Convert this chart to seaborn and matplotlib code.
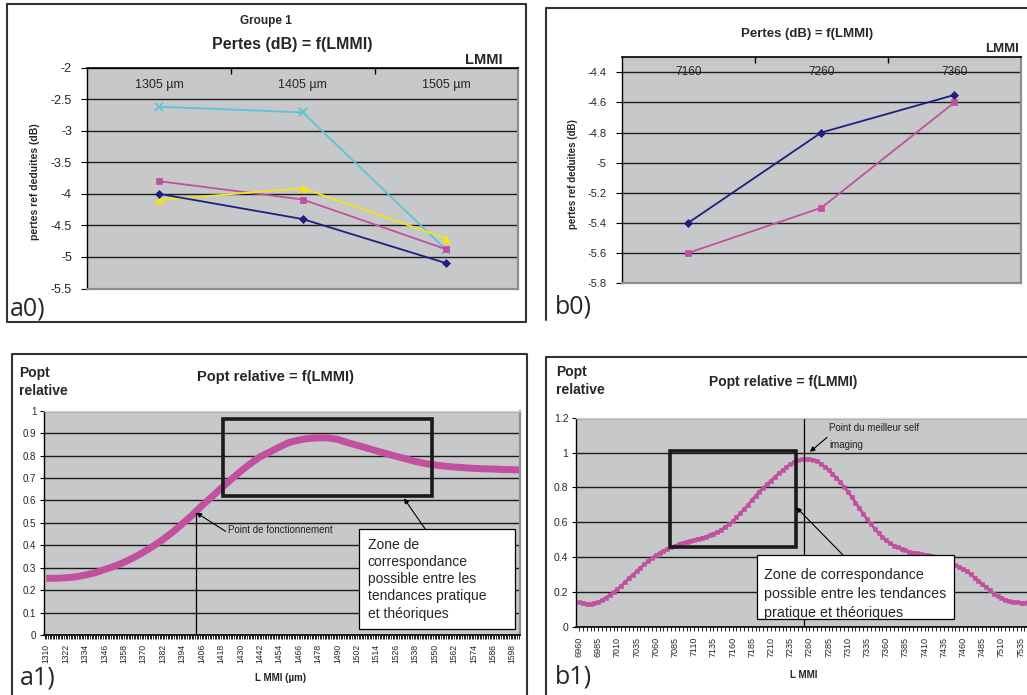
import matplotlib
matplotlib.use("Agg")
import matplotlib.pyplot as plt
from matplotlib.patches import Rectangle
from matplotlib.lines import Line2D
from matplotlib.ticker import MultipleLocator, FixedLocator
import pandas as pd
import seaborn as sns

# ---------------- data ----------------
a0_categories = ["1305 µm", "1405 µm", "1505 µm"]
a0_navy = [-4.00, -4.40, -5.10]
a0_magenta = [-3.80, -4.09, -4.88]
a0_yellow = [-4.10, -3.91, -4.71]
a0_cyan = [-2.62, -2.71, -4.89]
a0_yticks = [-2, -2.5, -3, -3.5, -4, -4.5, -5, -5.5]

b0_categories = ["7160", "7260", "7360"]
b0_navy = [-5.40, -4.80, -4.55]
b0_magenta = [-5.60, -5.30, -4.60]
b0_yticks = [-4.4, -4.6, -4.8, -5, -5.2, -5.4, -5.6, -5.8]

a1_lmmi = list(range(1310, 1605, 6))
a1_popt = [0.253, 0.253, 0.255, 0.259, 0.267, 0.277, 0.292, 0.306, 0.324, 0.345,
           0.369, 0.396, 0.425, 0.458, 0.495, 0.533, 0.575, 0.614, 0.654, 0.692,
           0.729, 0.763, 0.794, 0.815, 0.838, 0.858, 0.869, 0.876, 0.879, 0.879,
           0.872, 0.858, 0.846, 0.834, 0.821, 0.809, 0.797, 0.786, 0.774, 0.765,
           0.758, 0.753, 0.749, 0.746, 0.743, 0.741, 0.740, 0.738, 0.737, 0.735]
a1_tick_labels = list(range(1310, 1599, 12))
a1_yticks = [0, 0.1, 0.2, 0.3, 0.4, 0.5, 0.6, 0.7, 0.8, 0.9, 1]

b1_lmmi = list(range(6960, 7550, 5))
b1_popt = [0.140, 0.135, 0.132, 0.132, 0.135, 0.140, 0.152, 0.167, 0.182, 0.198,
           0.215, 0.235, 0.257, 0.278, 0.298, 0.318, 0.338, 0.358, 0.376, 0.394,
           0.410, 0.424, 0.436, 0.447, 0.456, 0.465, 0.473, 0.481, 0.488, 0.494,
           0.499, 0.505, 0.511, 0.517, 0.525, 0.534, 0.544, 0.556, 0.570, 0.587,
           0.605, 0.627, 0.650, 0.675, 0.700, 0.726, 0.752, 0.776, 0.798, 0.818,
           0.838, 0.860, 0.880, 0.898, 0.916, 0.932, 0.945, 0.955, 0.960, 0.962,
           0.962, 0.958, 0.950, 0.935, 0.918, 0.900, 0.878, 0.855, 0.830, 0.803,
           0.775, 0.745, 0.713, 0.680, 0.648, 0.617, 0.590, 0.563, 0.538, 0.514,
           0.495, 0.479, 0.466, 0.455, 0.446, 0.438, 0.431, 0.426, 0.422, 0.418,
           0.414, 0.410, 0.404, 0.398, 0.390, 0.382, 0.374, 0.366, 0.356, 0.345,
           0.332, 0.317, 0.300, 0.282, 0.264, 0.246, 0.226, 0.208, 0.190, 0.176,
           0.165, 0.155, 0.148, 0.142, 0.139, 0.138, 0.138, 0.139]
b1_tick_labels = list(range(6960, 7536, 25))
b1_yticks = [0, 0.2, 0.4, 0.6, 0.8, 1, 1.2]

# ---------------- style ----------------
sns.set_style("white")
plt.rcParams['font.family'] = ['Liberation Sans', 'DejaVu Sans']
plt.rcParams['axes.unicode_minus'] = False

NAVY = "#1f1f7d"
MAGENTA = "#c1509f"
YELLOW = "#f2e41a"
CYAN = "#5cc3da"
PLOT_BG = "#c7c8ca"
GRID = "#1c1c1c"

W, H = 1027, 695
fig = plt.figure(figsize=(W / 100, H / 100), dpi=100)
fig.patch.set_facecolor("white")


def rect(l, t, r, b):
    return [l / W, 1 - b / H, (r - l) / W, (b - t) / H]


def fx(x):
    return x / W


def fy(y):
    return 1 - y / H


def ftext(x, y, s, **kw):
    fig.text(fx(x), fy(y), s, **kw)


def fline(xs, ys, **kw):
    fig.add_artist(Line2D([fx(v) for v in xs], [fy(v) for v in ys],
                          transform=fig.transFigure, **kw))


def base_style(ax):
    ax.set_facecolor(PLOT_BG)
    ax.yaxis.grid(True, color=GRID, linewidth=1.0)
    ax.xaxis.grid(False)
    ax.set_axisbelow(True)
    for s in ax.spines.values():
        s.set_visible(True)
        s.set_linewidth(1.0)
    ax.spines['left'].set_color('black')
    ax.spines['right'].set_color('#8e8e8e')
    ax.spines['right'].set_linewidth(1.6)
    ax.tick_params(axis='y', which='major', direction='out', length=4,
                   width=0.8, color='black', left=True)


# ---------------- panel borders ----------------
border_kw = dict(color="#333333", linewidth=1.5)
fline([7, 526, 526, 7, 7], [4, 4, 321.5, 321.5, 4], **border_kw)          # a0
fline([1027, 546, 546], [8.3, 8.3, 320], **border_kw)                    # b0
fline([12, 12, 527.4, 527.4], [700, 354, 354, 700], **border_kw)         # a1
fline([1027, 546, 546], [356.7, 356.7, 700], **border_kw)                # b1

# ---------------- a0 ----------------
ax = fig.add_axes(rect(87.2, 67.6, 518.3, 288.5))
base_style(ax)
a0_df = pd.DataFrame({"LMMI": a0_categories, "navy": a0_navy, "magenta": a0_magenta,
                      "yellow": a0_yellow, "cyan": a0_cyan})
series_a0 = [("cyan", CYAN, "x", 5.5), ("magenta", MAGENTA, "s", 5),
             ("yellow", YELLOW, "^", 6), ("navy", NAVY, "D", 4.5)]
for col, c, m, ms in series_a0:
    sns.lineplot(data=a0_df, x="LMMI", y=col, ax=ax, color=c, marker=m,
                 markersize=ms, linewidth=1.3, markeredgecolor=c,
                 markeredgewidth=1.3 if m == "x" else 0.5, sort=False)
ax.set_xlim(-0.5, 2.5)
ax.set_ylim(-5.5, -2)
ax.set_yticks(a0_yticks)
ax.set_yticklabels([f"{v:g}" for v in a0_yticks], fontsize=9)
ax.xaxis.tick_top()
ax.set_xticks(range(len(a0_categories)))
ax.set_xticklabels(a0_categories, fontsize=9)
ax.xaxis.set_minor_locator(FixedLocator([0.5, 1.5]))
ax.tick_params(axis='x', which='major', length=0, pad=-16.5, top=True, bottom=False)
ax.tick_params(axis='x', which='minor', length=4, direction='in', top=True,
               bottom=False, width=1, color='black')
ax.tick_params(axis='y', pad=7)
ax.spines['top'].set_color('black')
ax.spines['top'].set_linewidth(1.2)
ax.spines['bottom'].set_color('#8e8e8e')
ax.spines['bottom'].set_linewidth(1.6)
ax.set_xlabel("")
ax.set_ylabel("")
ftext(266.4, 21, "Groupe 1", fontsize=8.5, fontweight='bold', ha='center', va='center')
ftext(292, 44.5, "Pertes (dB) = f(LMMI)", fontsize=11.5, fontweight='bold',
      ha='center', va='center')
ftext(484, 60, "LMMI", fontsize=10.5, fontweight='bold', ha='center', va='center')
ftext(35.5, 182, "pertes ref deduites (dB)", fontsize=7.5, fontweight='bold',
      rotation=90, ha='center', va='center')
ftext(10, 309, "a0)", fontsize=18, family=['Open Sans', 'DejaVu Sans'],
      ha='left', va='center')

# ---------------- b0 ----------------
ax = fig.add_axes(rect(621.7, 57.3, 1021, 283))
base_style(ax)
b0_df = pd.DataFrame({"LMMI": b0_categories, "navy": b0_navy, "magenta": b0_magenta})
for col, c, m, ms in [("magenta", MAGENTA, "s", 5), ("navy", NAVY, "D", 4.5)]:
    sns.lineplot(data=b0_df, x="LMMI", y=col, ax=ax, color=c, marker=m,
                 markersize=ms, linewidth=1.3, markeredgecolor=c,
                 markeredgewidth=0.5, sort=False)
ax.set_xlim(-0.5, 2.5)
ax.set_ylim(-5.8, -4.3)
ax.set_yticks(b0_yticks)
ax.set_yticklabels([f"{v:g}" for v in b0_yticks], fontsize=8)
ax.xaxis.tick_top()
ax.set_xticks(range(len(b0_categories)))
ax.set_xticklabels(b0_categories, fontsize=8.5)
ax.xaxis.set_minor_locator(FixedLocator([0.5, 1.5]))
ax.tick_params(axis='x', which='major', length=0, pad=-15, top=True, bottom=False)
ax.tick_params(axis='x', which='minor', length=4, direction='in', top=True,
               bottom=False, width=1, color='black')
ax.tick_params(axis='y', pad=7)
ax.spines['top'].set_color('black')
ax.spines['top'].set_linewidth(1.2)
ax.spines['bottom'].set_color('#8e8e8e')
ax.spines['bottom'].set_linewidth(1.6)
ax.set_xlabel("")
ax.set_ylabel("")
ftext(806.7, 34.3, "Pertes (dB) = f(LMMI)", fontsize=9.5, fontweight='bold',
      ha='center', va='center')
ftext(1001.7, 49.3, "LMMI", fontsize=9.5, fontweight='bold', ha='center', va='center')
ftext(573.3, 174.3, "pertes ref deduites (dB)", fontsize=7, fontweight='bold',
      rotation=90, ha='center', va='center')
ftext(555, 307, "b0)", fontsize=18, family=['Open Sans', 'DejaVu Sans'],
      ha='left', va='center')

# ---------------- a1 ----------------
ax = fig.add_axes(rect(44, 410.7, 520, 635))
base_style(ax)
sns.lineplot(x=a1_lmmi, y=a1_popt, ax=ax, color=MAGENTA, linewidth=5,
             solid_capstyle='butt')
ax.set_xlim(1308.6, 1602.8)
ax.set_ylim(0, 1)
ax.set_yticks(a1_yticks)
ax.set_yticklabels([f"{v:g}" for v in a1_yticks], fontsize=7)
ax.set_xticks(a1_tick_labels)
ax.set_xticklabels([str(v) for v in a1_tick_labels], fontsize=6.2, rotation=90)
ax.xaxis.set_minor_locator(MultipleLocator(1))
ax.tick_params(axis='x', which='both', direction='out', length=3, width=0.6,
               color='black', bottom=True, pad=3.5)
ax.tick_params(axis='y', length=3, pad=2.5)
ax.spines['bottom'].set_color('black')
ax.spines['bottom'].set_linewidth(1.2)
ax.spines['top'].set_color('#d5d5d5')
ax.set_xlabel("")
ax.set_ylabel("")
# operating point
ax.plot([1402.3, 1402.3], [0, 0.543], color='black', linewidth=0.9)
ax.annotate("", xy=(1402.8, 0.545), xytext=(1420.9, 0.462),
            arrowprops=dict(arrowstyle='-|>', color='black', lw=0.8,
                            mutation_scale=7, shrinkA=0, shrinkB=0))
ax.text(1422.2, 0.468, "Point de fonctionnement", fontsize=7, ha='left',
        va='center', color='#222222')
# correspondence zone
ax.add_patch(Rectangle((1419, 0.621), 1548.2 - 1419, 0.963 - 0.621, fill=False,
                       edgecolor='#1a1a1a', linewidth=2.6, zorder=4))
box = Rectangle((1503.3, 0.0254), 1600 - 1503.3, 0.4726 - 0.0254, facecolor='white',
                edgecolor='black', linewidth=0.9, zorder=5)
ax.add_patch(box)
ax.text(1508.7, 0.2488, "Zone de\ncorrespondance\npossible entre les\n"
        "tendances pratique\net théoriques", fontsize=10, ha='left', va='center',
        linespacing=1.3, zorder=6)
ax.annotate("", xy=(1531.1, 0.609), xytext=(1544.2, 0.4726),
            arrowprops=dict(arrowstyle='-|>', color='black', lw=0.8,
                            mutation_scale=7, shrinkA=0, shrinkB=0), zorder=6)
ftext(275.5, 377, "Popt relative = f(LMMI)", fontsize=10.5, fontweight='bold',
      ha='center', va='center')
ftext(19.3, 382, "Popt\nrelative", fontsize=10, fontweight='bold', ha='left',
      va='center', linespacing=1.35)
ftext(280.6, 678.3, "L MMI (µm)", fontsize=7, fontweight='bold', ha='center',
      va='center')
ftext(20, 678, "a1)", fontsize=18, family=['Open Sans', 'DejaVu Sans'],
      ha='left', va='center')

# ---------------- b1 ----------------
ax = fig.add_axes(rect(576, 417.7, 1027, 626.7))
base_style(ax)
sns.lineplot(x=b1_lmmi, y=b1_popt, ax=ax, color=MAGENTA, linewidth=2,
             marker='s', markersize=3.4, markeredgecolor=MAGENTA,
             markeredgewidth=0.4)
ax.set_xlim(6956.1, 7543.3)
ax.set_ylim(0, 1.2)
ax.set_yticks(b1_yticks)
ax.set_yticklabels([f"{v:g}" for v in b1_yticks], fontsize=7.5)
ax.set_xticks(b1_tick_labels)
ax.set_xticklabels([str(v) for v in b1_tick_labels], fontsize=6.5, rotation=90)
ax.xaxis.set_minor_locator(MultipleLocator(5))
ax.tick_params(axis='x', which='both', direction='out', length=3, width=0.6,
               color='black', bottom=True, pad=4.5)
ax.tick_params(axis='y', length=3, pad=2.5)
ax.spines['bottom'].set_color('black')
ax.spines['bottom'].set_linewidth(1.2)
ax.spines['top'].set_color('#d5d5d5')
ax.spines['right'].set_visible(False)
ax.set_xlabel("")
ax.set_ylabel("")
ax.plot([7253.5, 7253.5], [0, 1.2], color='black', linewidth=0.9)
ax.text(7285.4, 1.142, "Point du meilleur self", fontsize=7, ha='left',
        va='center', color='#222222')
ax.text(7285.4, 1.043, "imaging", fontsize=7, ha='left', va='center',
        color='#222222')
ax.annotate("", xy=(7260.7, 1.004), xytext=(7283, 1.087),
            arrowprops=dict(arrowstyle='-|>', color='black', lw=0.8,
                            mutation_scale=7, shrinkA=0, shrinkB=0))
ax.add_patch(Rectangle((7078.4, 0.457), 7242.3 - 7078.4, 1.008 - 0.457, fill=False,
                       edgecolor='#1a1a1a', linewidth=2.6, zorder=4))
box = Rectangle((7191.2, 0.042), 7448.3 - 7191.2, 0.411 - 0.042, facecolor='white',
                edgecolor='black', linewidth=0.9, zorder=5)
ax.add_patch(box)
t = ax.text(7201, 0.19, "Zone de correspondance\npossible entre les tendances\n"
            "pratique et théoriques", fontsize=10.3, ha='left', va='center',
            linespacing=1.45, zorder=6)
t.set_clip_path(box)
ax.annotate("", xy=(7243, 0.685), xytext=(7303.8, 0.411),
            arrowprops=dict(arrowstyle='-|>', color='black', lw=0.8,
                            mutation_scale=7, shrinkA=0, shrinkB=0), zorder=6)
ftext(783.3, 381.7, "Popt relative = f(LMMI)", fontsize=10, fontweight='bold',
      ha='center', va='center')
ftext(555.7, 381, "Popt\nrelative", fontsize=10, fontweight='bold', ha='left',
      va='center', linespacing=1.35)
ftext(803.3, 675, "L MMI", fontsize=7, fontweight='bold', ha='center', va='center')
ftext(555, 677, "b1)", fontsize=18, family=['Open Sans', 'DejaVu Sans'],
      ha='left', va='center')

fig.savefig("out.png", dpi=100)
